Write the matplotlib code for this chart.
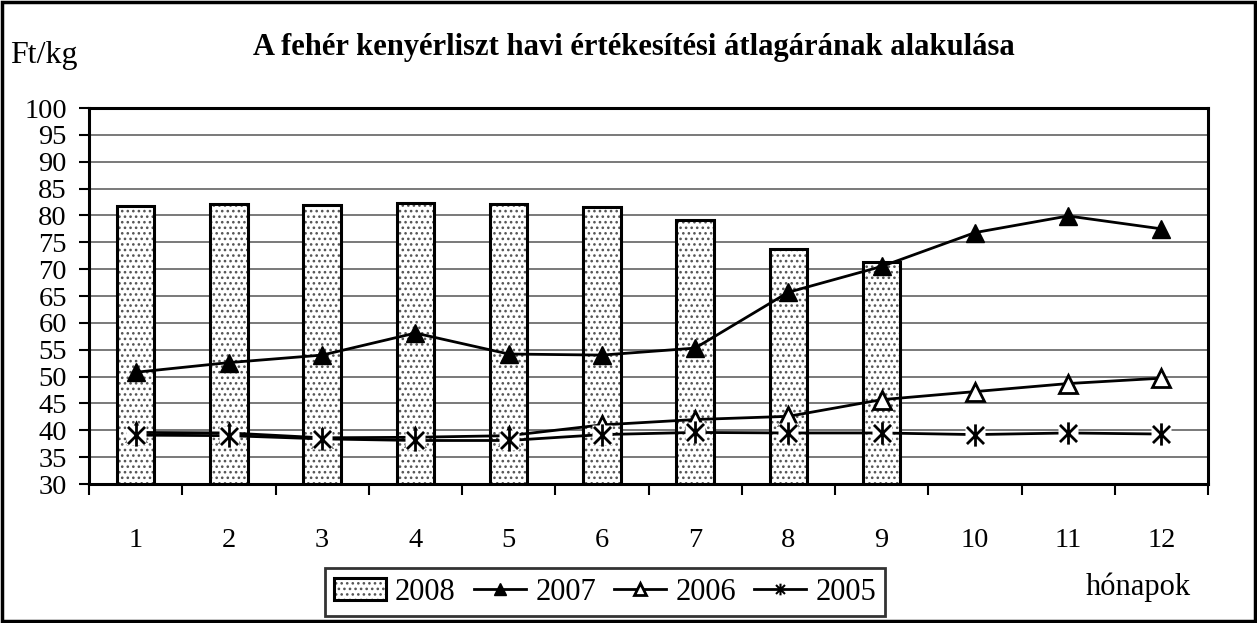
import matplotlib
matplotlib.use("Agg")
import matplotlib.pyplot as plt
import numpy as np
from matplotlib.path import Path
from matplotlib.lines import Line2D
from matplotlib.patches import Rectangle

months = [1, 2, 3, 4, 5, 6, 7, 8, 9, 10, 11, 12]
month_labels = ["1", "2", "3", "4", "5", "6", "7", "8", "9", "10", "11", "12"]
months_2008 = [1, 2, 3, 4, 5, 6, 7, 8, 9]
values_2008 = [81.8, 82.2, 82.0, 82.3, 82.1, 81.6, 79.1, 73.7, 71.4]
values_2007 = [50.8, 52.6, 54.0, 58.1, 54.2, 54.0, 55.3, 65.7, 70.5, 76.8, 79.9, 77.5]
values_2006 = [39.6, 39.5, 38.6, 38.7, 39.0, 41.0, 42.0, 42.6, 45.7, 47.2, 48.7, 49.7]
values_2005 = [39.1, 39.0, 38.4, 38.1, 38.1, 39.2, 39.6, 39.5, 39.5, 39.2, 39.5, 39.3]
series_names = ["2008", "2007", "2006", "2005"]
yticks = list(range(30, 101, 5))

title = "A fehér kenyérliszt havi értékesítési átlagárának alakulása"
ylabel = "Ft/kg"
xlabel = "hónapok"

plt.rcParams['font.family'] = ['Liberation Serif', 'DejaVu Serif']
plt.rcParams['hatch.linewidth'] = 1.1

W, H = 1257, 623
fig = plt.figure(figsize=(W / 100, H / 100), dpi=100)
ax = fig.add_axes([89 / W, 1 - 484 / H, (1208 - 89) / W, (484 - 108) / H])

# star marker: X plus vertical line
star = Path([(-1, -1), (1, 1), (-1, 1), (1, -1), (0, -1.3), (0, 1.3)],
            [Path.MOVETO, Path.LINETO, Path.MOVETO, Path.LINETO, Path.MOVETO, Path.LINETO])

ax.set_ylim(30, 100)
ax.set_xlim(0.5, 12.5)
ax.set_yticks(yticks)
ax.yaxis.grid(True, color='#555555', linewidth=1.1, zorder=0)
ax.set_axisbelow(True)

# dotted fill (gray dots) + black outline
bars = ax.bar(months_2008, values_2008, width=0.4, color='white', edgecolor='#555555',
              hatch='...', linewidth=0, zorder=2, label=series_names[0])
outline = ax.bar(months_2008, values_2008, width=0.4, fill=False, edgecolor='black',
                 linewidth=2.2, zorder=2.5)

l2007, = ax.plot(months, values_2007, color='black', lw=2, marker='^', ms=13,
                 mfc='black', mec='black', zorder=4, label=series_names[1])
l2006, = ax.plot(months, values_2006, color='black', lw=2, marker='^', ms=13,
                 mfc='white', mec='black', mew=2, zorder=4, label=series_names[2])
ax.plot(months, values_2005, color='black', lw=2, zorder=4.5)
ax.plot(months, values_2005, linestyle='none', marker='s', ms=15, mfc='white',
        mec='none', zorder=5)
ax.plot(months, values_2005, linestyle='none', marker=star, ms=16, mfc='none',
        mec='black', mew=2, zorder=6)

for s in ax.spines.values():
    s.set_linewidth(2.2)
    s.set_color('black')

ax.tick_params(axis='y', direction='out', length=7, width=1.5, pad=9,
               labelsize=20.5, colors='black')
ax.set_xticks(np.arange(0.5, 13, 1))
ax.set_xticklabels([])
ax.set_xticks(months, minor=True)
ax.set_xticklabels(month_labels, minor=True)
ax.tick_params(axis='x', which='major', direction='out', length=8, width=1.5)
ax.tick_params(axis='x', which='minor', length=0, pad=32, labelsize=20.5)

fig.text(634 / W, 1 - 48 / H, title, ha='center', va='center', fontsize=22,
         fontweight='bold')
fig.text(10 / W, 1 - 56 / H, ylabel, ha='left', va='center', fontsize=23)
fig.text(1138 / W, 1 - 587 / H, xlabel, ha='center', va='center', fontsize=22)

handle_2005 = Line2D([], [], color='black', lw=2, marker=star, ms=12,
                     mfc='none', mec='black', mew=1.5)
handles = [(bars, outline), l2007, l2006, handle_2005]
leg = fig.legend(handles, series_names, loc='center', ncol=4,
                 bbox_to_anchor=(605 / W, 1 - 592 / H), fontsize=22,
                 frameon=True, fancybox=False, edgecolor='black',
                 handlelength=1.7, handletextpad=0.3, columnspacing=0.6,
                 borderpad=0.3, markerscale=0.7)
leg.get_frame().set_linewidth(2)

fig.add_artist(Rectangle((2 / W, 2 / H), (W - 4) / W, (H - 4) / H,
                         transform=fig.transFigure, fill=False,
                         edgecolor='black', linewidth=2.5))

fig.savefig("out.png", dpi=100)
